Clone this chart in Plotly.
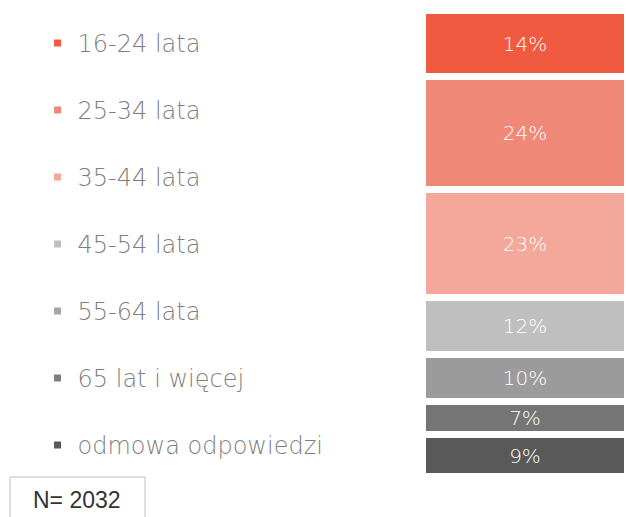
import plotly.graph_objects as go

categories = ["16-24 lata", "25-34 lata", "35-44 lata", "45-54 lata", "55-64 lata", "65 lat i więcej", "odmowa odpowiedzi"]
values = [14, 24, 23, 12, 10, 7, 9]
colors = ["#F05A40", "#F08878", "#F4A89C", "#BFBFBF", "#9B9B9B", "#757575", "#595959"]
legend_colors = ["#F05A40", "#F08878", "#F4A89C", "#BFBFBF", "#A5A5A5", "#7F7F7F", "#595959"]
n_label = "N= 2032"

FONT = "DejaVu Sans, Open Sans, sans-serif"
W, H = 626, 517

fig = go.Figure()

# stacked bar: bottom segment first
for cat, val, col in reversed(list(zip(categories, values, colors))):
    fig.add_trace(go.Bar(
        x=[0], y=[val], name=cat, marker=dict(color=col, line=dict(color="white", width=7)),
        width=1, text=[f"{val}%"], textposition="inside", insidetextanchor="middle",
        textangle=0, textfont=dict(color="white", size=20, family=FONT, weight=200),
        showlegend=False, hoverinfo="skip",
    ))

# legend entries (small square markers)
for i, (cat, col) in enumerate(zip(categories, legend_colors)):
    fig.add_trace(go.Scatter(
        x=[None], y=[None], mode="markers", name=cat, legendgroup=f"g{i}",
        marker=dict(symbol="square", size=7, color=col),
    ))

fig.update_layout(
    width=W, height=H,
    margin=dict(l=0, r=0, t=0, b=0),
    paper_bgcolor="white", plot_bgcolor="white",
    barmode="stack", bargap=0,
    xaxis=dict(visible=False, domain=[423 / W, 1], range=[-0.5, 0.49]),
    yaxis=dict(visible=False, domain=[1 - 477 / H, 1 - 11 / H], range=[0, 99]),
    showlegend=True,
    legend=dict(
        x=0.06, y=1 - 21 / H, xanchor="left", yanchor="top",
        orientation="v", traceorder="grouped", tracegroupgap=32.8,
        font=dict(family=FONT, size=24, color="#7F7F7F", weight=200),
        itemwidth=30, bgcolor="rgba(0,0,0,0)",
    ),
    shapes=[dict(type="rect", xref="paper", yref="paper",
                 x0=10 / W, x1=145 / W, y0=-0.05, y1=1 - 477 / H,
                 line=dict(color="#BFBFBF", width=1), fillcolor="rgba(0,0,0,0)")],
    annotations=[dict(text=n_label, xref="paper", yref="paper", x=77 / W, y=1 - 500 / H,
                      showarrow=False, xanchor="center", yanchor="middle",
                      font=dict(family="Liberation Sans, Arial", size=23, color="#333333"))],
)

fig.write_html("out.html", config={"displayModeBar": False},
               post_script="document.body.style.margin='0';")
